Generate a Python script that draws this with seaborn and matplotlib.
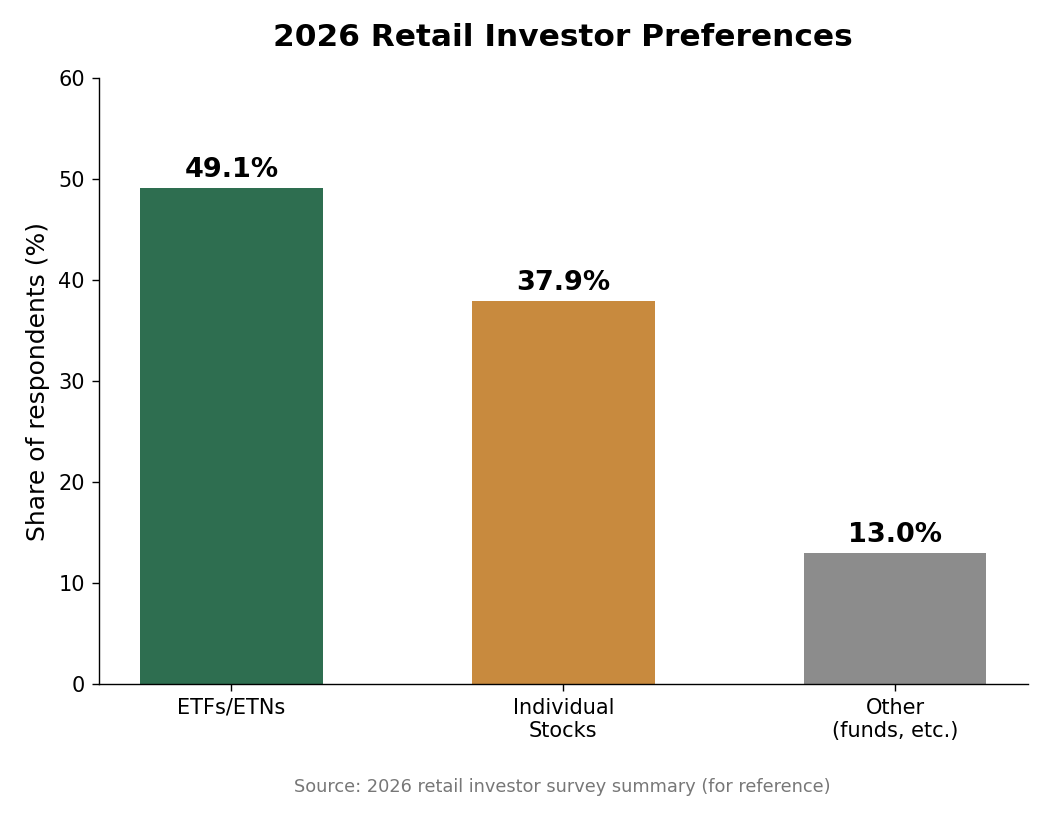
import matplotlib
matplotlib.use("Agg")
import matplotlib.pyplot as plt
import seaborn as sns
import pandas as pd

categories = ["ETFs/ETNs", "Individual\nStocks", "Other\n(funds, etc.)"]
values = [49.1, 37.9, 13.0]
colors = ["#2e6e50", "#c88a3e", "#8c8c8c"]

sns.set_style("ticks")
plt.rcParams['font.family'] = ['DejaVu Sans']
plt.rcParams.update({
    "text.color": "black", "axes.labelcolor": "black",
    "xtick.color": "black", "ytick.color": "black",
    "axes.edgecolor": "black", "axes.linewidth": 1.0,
})

df = pd.DataFrame({"cat": categories, "val": values})

fig = plt.figure(figsize=(10.5, 8.25), dpi=100)
ax = fig.add_axes([0.094, 0.171, 0.885, 0.734])
sns.barplot(data=df, x="cat", y="val", hue="cat", palette=colors, width=0.55,
            legend=False, ax=ax, saturation=1, linewidth=0)
ax.set_xlim(-0.4, 2.4)
ax.set_ylim(0, 60)
ax.set_xlabel("")
ax.set_ylabel("Share of respondents (%)", fontsize=18, labelpad=6)
ax.set_title("2026 Retail Investor Preferences", fontsize=22.5, fontweight="bold", pad=23)
ax.tick_params(axis="both", labelsize=15, length=5, width=1, pad=5)
for i, v in enumerate(values):
    ax.text(i, v + 0.5, f"{v:.1f}%", ha="center", va="bottom", fontsize=19.5, fontweight="bold")
sns.despine(ax=ax)
fig.text(0.536, 0.046, "Source: 2026 retail investor survey summary (for reference)",
         ha="center", va="center", fontsize=12.75, color="#777777")
fig.savefig("out.png", dpi=100)
